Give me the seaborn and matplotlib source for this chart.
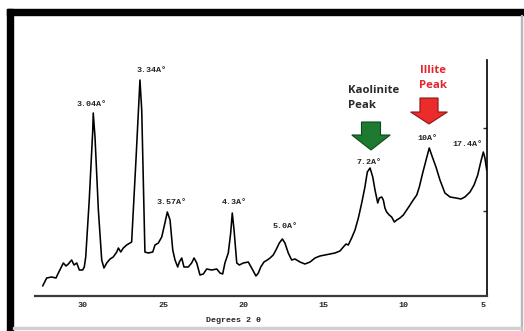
import numpy as np
import pandas as pd
import matplotlib
matplotlib.use("Agg")
import matplotlib.pyplot as plt
from matplotlib.patches import Rectangle, FancyArrow
import seaborn as sns

# diffraction trace (degrees 2-theta, relative intensity)
two_theta = [32.52, 32.27, 31.96, 31.69, 31.54, 31.23, 31.06, 30.92, 30.71, 30.56,
             30.39, 30.23, 30.02, 29.92, 29.83, 29.61, 29.39, 29.36, 29.25, 29.04,
             28.83, 28.69, 28.52, 28.31, 28.11, 27.89, 27.79, 27.64, 27.48, 27.27,
             27.06, 26.96, 26.69, 26.44, 26.33, 26.19, 26.13, 25.92, 25.64, 25.50,
             25.29, 25.08, 24.88, 24.73, 24.56, 24.39, 24.25, 24.08, 23.98, 23.83,
             23.69, 23.42, 23.21, 23.06, 22.89, 22.69, 22.48, 22.27, 21.96, 21.64,
             21.44, 21.27, 21.13, 20.92, 20.77, 20.67, 20.56, 20.39, 20.23, 19.98,
             19.67, 19.46, 19.19, 19.04, 18.89, 18.69, 18.48, 18.31, 18.11, 17.94,
             17.73, 17.54, 17.38, 17.17, 16.96, 16.75, 16.44, 16.13, 15.81, 15.50,
             15.19, 14.88, 14.56, 14.25, 13.94, 13.73, 13.56, 13.42, 13.21, 13.00,
             12.79, 12.58, 12.38, 12.23, 12.06, 11.89, 11.75, 11.58, 11.48, 11.33,
             11.23, 11.13, 11.02, 10.86, 10.71, 10.54, 10.39, 10.19, 9.98, 9.77,
             9.56, 9.36, 9.14, 8.98, 8.77, 8.56, 8.36, 8.21, 7.94, 7.69,
             7.38, 7.06, 6.69, 6.38, 6.13, 5.81, 5.56, 5.33, 5.14, 4.98,
             4.88, 4.77]
intensity = [10, 18, 19, 18, 23, 33, 30, 32, 36, 31,
             33, 26, 26, 29, 39, 96, 166, 183, 159, 86,
             36, 28, 33, 37, 39, 44, 48, 44, 48, 51,
             53, 54, 136, 216, 186, 86, 44, 43, 44, 51,
             53, 59, 73, 84, 76, 46, 36, 29, 34, 38,
             29, 29, 33, 38, 33, 21, 22, 27, 26, 27,
             23, 22, 33, 43, 63, 83, 66, 33, 31, 33,
             34, 28, 20, 23, 29, 34, 36, 38, 41, 46,
             53, 57, 53, 43, 36, 37, 34, 32, 34, 38,
             40, 41, 42, 43, 45, 49, 52, 51, 58, 66,
             78, 93, 109, 124, 128, 119, 106, 93, 98, 99,
             96, 88, 84, 81, 79, 74, 76, 78, 81, 86,
             91, 96, 101, 109, 123, 136, 148, 141, 129, 116,
             103, 99, 98, 97, 99, 104, 111, 121, 134, 144,
             138, 126]

# d-spacing labels and where they sit
peak_labels = ["3.04A°", "3.34A°", "3.57A°", "4.3A°", "5.0A°", "7.2A°", "10A°", "17.4A°"]
label_x = [29.47, 25.69, 24.44, 20.56, 17.38, 12.13, 8.5, 6.0]
label_y = [191, 225, 94, 94, 69, 134, 158, 152]

x_ticks = [30, 25, 20, 15, 10, 5]

df = pd.DataFrame({"two_theta": two_theta, "intensity": intensity})

sns.set_style("white")
plt.rcParams["font.family"] = ["Liberation Mono", "DejaVu Sans Mono"]

W, H = 524, 331
fig = plt.figure(figsize=(W / 100, H / 100), dpi=100)
fig.patch.set_facecolor("white")

# scanned page frame
fig.patches.append(Rectangle((7 / W, (H - 15) / H), 1 - 7 / W, 6 / H,
                             transform=fig.transFigure, color="black", zorder=0))
fig.patches.append(Rectangle((7 / W, 0), 6 / W, (H - 9) / H,
                             transform=fig.transFigure, color="black", zorder=0))
fig.patches.append(Rectangle((521 / W, 0), 1.2 / W, (H - 15) / H,
                             transform=fig.transFigure, color="#b8b8b8", zorder=0))
fig.patches.append(Rectangle((13 / W, 2.5 / H), 508 / W, 1.2 / H,
                             transform=fig.transFigure, color="#d0d0d0", zorder=0))

ax = fig.add_axes([35 / W, (H - 296) / H, 452 / W, 236 / H])
ax.set_facecolor("none")

sns.lineplot(data=df, x="two_theta", y="intensity", ax=ax, color="black",
             linewidth=1.15, estimator=None, sort=False)

ax.set_xlim(33, 4.75)
ax.set_ylim(0, 236)

for side in ["top", "left"]:
    ax.spines[side].set_visible(False)
ax.spines["bottom"].set_color("#3a3a3a")
ax.spines["bottom"].set_linewidth(1.6)
ax.spines["right"].set_color("black")
ax.spines["right"].set_linewidth(1.2)

ax.set_xticks(x_ticks)
ax.set_xticklabels([str(t) for t in x_ticks], fontsize=6, fontweight="bold")
ax.tick_params(axis="x", direction="in", length=3, width=1, pad=4, color="#3a3a3a")
ax.yaxis.tick_right()
ax.set_yticks([85, 168])
ax.tick_params(axis="y", direction="in", length=3, width=1, labelright=False)

ax.set_xlabel("Degrees 2 θ", fontsize=6, fontweight="bold", labelpad=6)
ax.xaxis.label.set_x(0.44)
ax.set_ylabel("")

for txt, lx, ly in zip(peak_labels, label_x, label_y):
    ax.text(lx, ly, txt, fontsize=6, fontweight="bold", ha="center", va="center",
            color="#222222")

# mineral callouts
ax.text(13.44, 198, "Kaolinite\nPeak", fontsize=8.2, fontweight="bold", ha="left",
        va="center", color="#2a2a2a", family=["Open Sans", "DejaVu Sans"],
        linespacing=1.55)
ax.text(8.125, 218, "Illite\nPeak", fontsize=8.2, fontweight="bold", ha="center",
        va="center", color="#e3262b", family=["Open Sans", "DejaVu Sans"],
        linespacing=1.45)

ax.add_patch(FancyArrow(12.0, 174, 0, -28, width=1.19, head_width=2.4,
                        head_length=15, length_includes_head=True,
                        facecolor="#1d7a30", edgecolor="#0e4a1a", linewidth=0.8,
                        clip_on=False))
ax.add_patch(FancyArrow(8.375, 198, 0, -26, width=1.13, head_width=2.3,
                        head_length=12, length_includes_head=True,
                        facecolor="#ec2b2b", edgecolor="#8a1a1a", linewidth=0.8,
                        clip_on=False))

fig.savefig("out.png", dpi=100)
